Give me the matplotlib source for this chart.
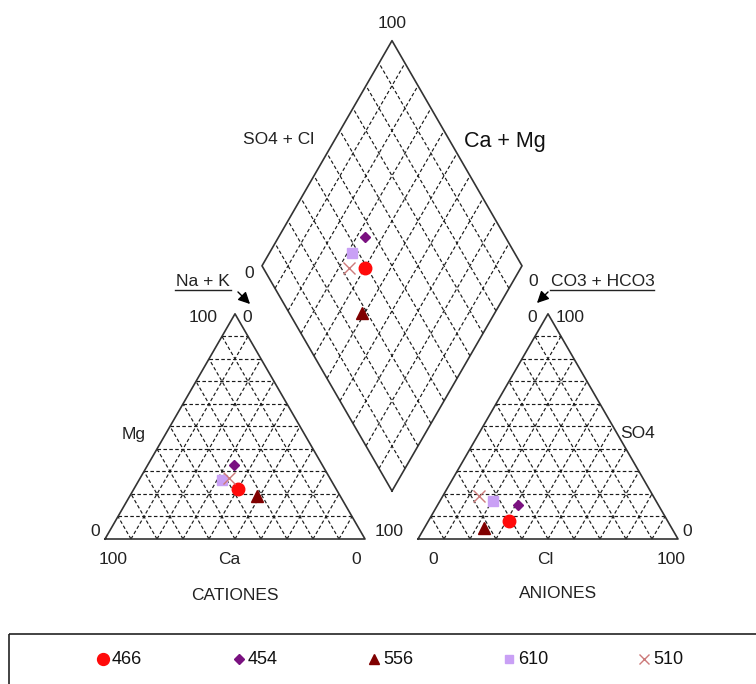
import numpy as np
import matplotlib
matplotlib.use('Agg')
import matplotlib.pyplot as plt
from matplotlib.patches import Rectangle

plt.rcParams['font.family'] = ['Liberation Sans', 'DejaVu Sans']

# muestras (porcentaje de meq/L)
samples = ['466', '454', '556', '610', '510']
ca = np.array([38, 34, 32, 42, 39])
mg = np.array([22, 33, 19, 26, 27])
nak = 100 - ca - mg
cl = np.array([31, 31, 23, 20.5, 14])
so4 = np.array([8, 15, 5, 17, 19])
hco3 = 100 - cl - so4

markers = ['o', 'D', '^', 's', 'x']
colors = ['#ff0a0a', '#7a1180', '#800000', '#c9a0f5', '#cc7a7a']
sizes = [9, 5.5, 8, 6.5, 8]

# geometria (pixeles)
SIDE = 260
H = SIDE * np.sqrt(3) / 2
LEFT0 = (105, 539)
RIGHT0 = (418, 539)
DBOT = (392, 491)
DW = SIDE / 2


def tri_xy(origin, right_pct, top_pct):
    x = origin[0] + SIDE * (right_pct + top_pct / 2) / 100
    y = origin[1] - H * top_pct / 100
    return x, y


def dia_xy(camg, so4cl):
    x = DBOT[0] + DW * (so4cl - camg) / 100
    y = DBOT[1] - H * (camg + so4cl) / 100
    return x, y


def draw_triangle(ax, origin):
    for i in range(1, 10):
        f = i * 10
        # paralelas a la base
        p1 = tri_xy(origin, 0, f)
        p2 = tri_xy(origin, 100 - f, f)
        ax.plot([p1[0], p2[0]], [p1[1], p2[1]], ls=(0, (3, 2)), color='#1a1a1a', lw=0.85)
        # paralelas al lado izquierdo
        p1 = tri_xy(origin, f, 0)
        p2 = tri_xy(origin, f, 100 - f)
        ax.plot([p1[0], p2[0]], [p1[1], p2[1]], ls=(0, (3, 2)), color='#1a1a1a', lw=0.85)
        # paralelas al lado derecho
        p1 = tri_xy(origin, f, 0)
        p2 = tri_xy(origin, 0, f)
        ax.plot([p1[0], p2[0]], [p1[1], p2[1]], ls=(0, (3, 2)), color='#1a1a1a', lw=0.85)
    pts = [tri_xy(origin, 0, 0), tri_xy(origin, 100, 0), tri_xy(origin, 0, 100), tri_xy(origin, 0, 0)]
    ax.plot([p[0] for p in pts], [p[1] for p in pts], color='#333333', lw=1.2)


def draw_diamond(ax):
    for i in range(1, 10):
        f = i * 10
        p1 = dia_xy(f, 0)
        p2 = dia_xy(f, 100)
        ax.plot([p1[0], p2[0]], [p1[1], p2[1]], ls=(0, (3, 2)), color='#1a1a1a', lw=0.85)
        p1 = dia_xy(0, f)
        p2 = dia_xy(100, f)
        ax.plot([p1[0], p2[0]], [p1[1], p2[1]], ls=(0, (3, 2)), color='#1a1a1a', lw=0.85)
    pts = [dia_xy(0, 0), dia_xy(100, 0), dia_xy(100, 100), dia_xy(0, 100), dia_xy(0, 0)]
    ax.plot([p[0] for p in pts], [p[1] for p in pts], color='#333333', lw=1.2)


fig = plt.figure(figsize=(7.56, 6.84), dpi=100)
ax = fig.add_axes([0, 0, 1, 1])
ax.set_xlim(0, 756)
ax.set_ylim(684, 0)
ax.axis('off')

draw_triangle(ax, LEFT0)
draw_triangle(ax, RIGHT0)
draw_diamond(ax)

for i in range(len(samples)):
    kw = dict(marker=markers[i], ms=sizes[i], ls='none', zorder=5)
    if markers[i] == 'x':
        kw.update(color=colors[i], mew=1.0)
    else:
        kw.update(mfc=colors[i], mec=colors[i])
    x, y = tri_xy(LEFT0, nak[i], mg[i])
    ax.plot(x, y, **kw)
    x, y = tri_xy(RIGHT0, cl[i], so4[i])
    ax.plot(x, y, **kw)
    x, y = dia_xy(ca[i] + mg[i], so4[i] + cl[i])
    ax.plot(x, y, **kw)

fs = 12.5
txt = dict(fontsize=fs, ha='center', va='center', color='#222222')
ax.text(392, 23, '100', **txt)
ax.text(279, 140, 'SO4 + Cl', **txt)
ax.text(505, 141, 'Ca + Mg', fontsize=15.5, ha='center', va='center', color='#111111')
ax.text(249, 274, '0', **txt)

ax.text(203, 281, 'Na + K', **txt)
ax.plot([175, 231], [290, 290], color='#222222', lw=1.0)
ax.annotate('', xy=(252, 306), xytext=(236, 290),
            arrowprops=dict(arrowstyle='-|>,head_length=0.7,head_width=0.35', color='black', lw=1.0))

ax.text(533, 281, '0', **txt)
ax.text(603, 281, 'CO3 + HCO3', **txt)
ax.plot([550, 654], [290, 290], color='#222222', lw=1.0)
ax.annotate('', xy=(535, 305), xytext=(550, 290),
            arrowprops=dict(arrowstyle='-|>,head_length=0.7,head_width=0.35', color='black', lw=1.0))

ax.text(203, 318, '100', **txt)
ax.text(247, 318, '0', **txt)
ax.text(532, 318, '0', **txt)
ax.text(570, 318, '100', **txt)

ax.text(134, 434, 'Mg', **txt)
ax.text(638, 434, 'SO4', **txt)

ax.text(95, 531, '0', **txt)
ax.text(389, 531, '100', **txt)
ax.text(687, 531, '0', **txt)

ax.text(113, 559, '100', **txt)
ax.text(229, 559, 'Ca', **txt)
ax.text(356, 559, '0', **txt)
ax.text(433, 559, '0', **txt)
ax.text(545, 559, 'Cl', **txt)
ax.text(671, 559, '100', **txt)

ax.text(235, 596, 'CATIONES', **txt)
ax.text(558, 594, 'ANIONES', **txt)

# leyenda
ax.add_patch(Rectangle((9, 634), 760, 80, fill=False, ec='#222222', lw=1.2, clip_on=False))
leg_x = [103, 239, 374, 509, 644]
for i in range(len(samples)):
    kw = dict(marker=markers[i], ms=sizes[i] * 0.95, ls='none')
    if markers[i] == 'x':
        kw.update(color=colors[i], mew=1.0)
    else:
        kw.update(mfc=colors[i], mec=colors[i])
    ax.plot(leg_x[i], 659, **kw)
    ax.text(leg_x[i] + 9, 659, samples[i], fontsize=13, ha='left', va='center', color='#111111')

fig.savefig('out.png', dpi=100)
